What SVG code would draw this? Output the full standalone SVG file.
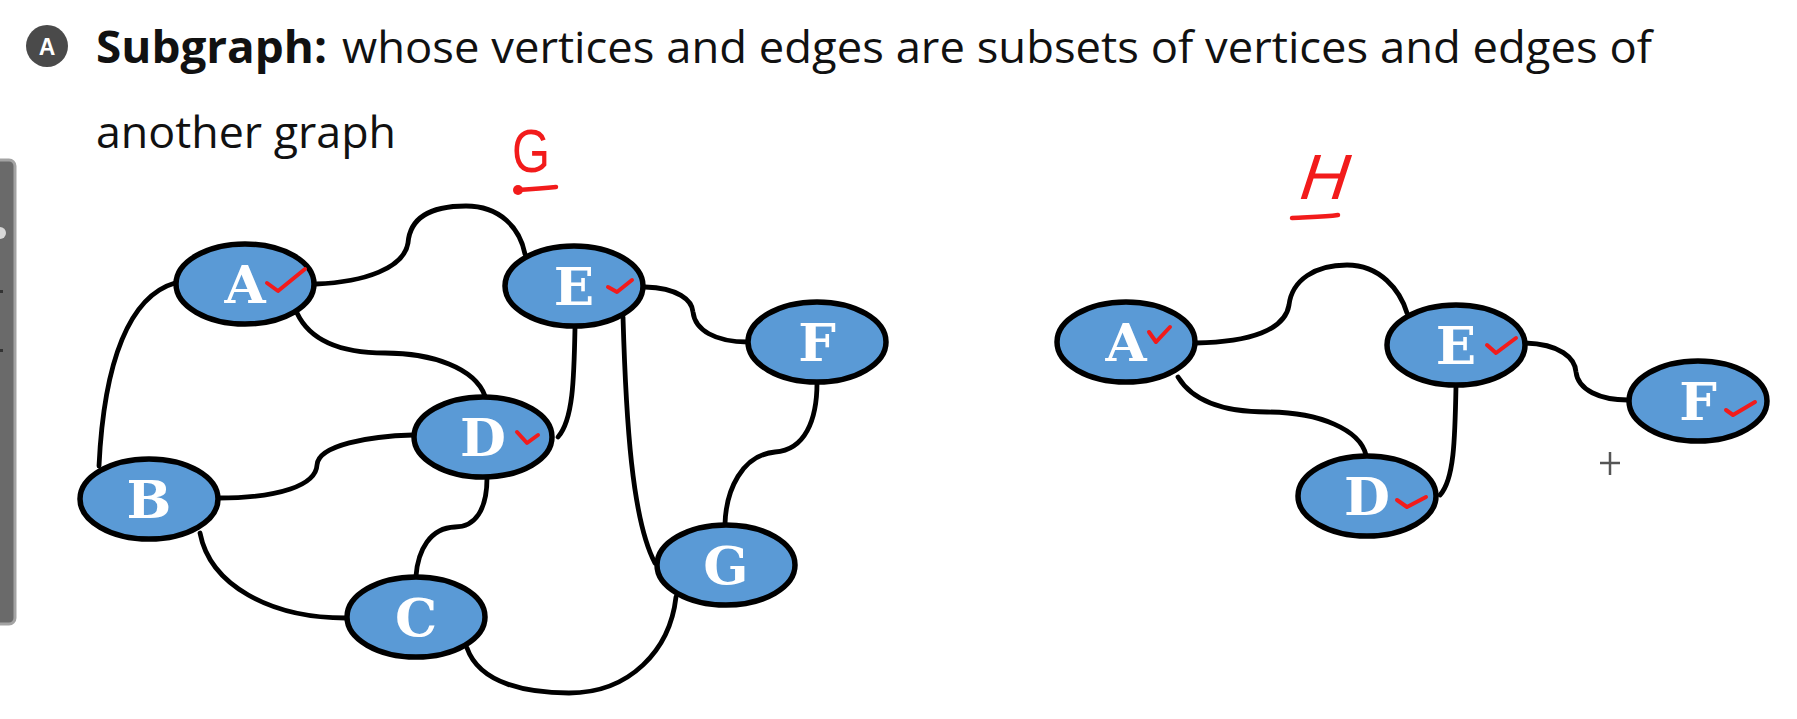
<svg xmlns="http://www.w3.org/2000/svg" width="1797" height="719" viewBox="0 0 1797 719">
  <defs>
    <style>
      .node ellipse { fill: #5a9ad6; stroke: #000; stroke-width: 5.5; }
      .node text { fill: #fff; font-family: "DejaVu Serif", "Liberation Serif", serif; font-weight: bold; font-size: 53px; text-anchor: middle; }
      .edge { fill: none; stroke: #000; stroke-width: 4.8; stroke-linecap: round; }
      .tick { fill: none; stroke: #f21b1b; stroke-width: 4; stroke-linecap: round; stroke-linejoin: round; }
      .ink { fill: none; stroke: #f21b1b; stroke-width: 4.5; stroke-linecap: round; }
      .title { font-family: "Open Sans", "Noto Sans", "Liberation Sans", sans-serif; font-size: 44px; fill: #111; }
    </style>
  </defs>

  <rect width="1797" height="719" fill="#fff"/>

  <!-- side panel strip at the left edge -->
  <g id="side-panel">
    <rect x="-12" y="160" width="27" height="464" rx="6" fill="#6a6a6a" stroke="#a3a3a3" stroke-width="3"/>
    <circle cx="0" cy="233" r="6" fill="#d8d8d8"/>
    <rect x="0" y="290" width="3" height="3" fill="#333"/>
    <rect x="0" y="349" width="3" height="3" fill="#333"/>
  </g>

  <!-- heading -->
  <g id="heading">
    <circle cx="47" cy="46" r="21" fill="#4a4a4a"/>
    <text x="47" y="55" font-family="Liberation Sans, sans-serif" font-weight="bold" font-size="23" fill="#fff" text-anchor="middle">A</text>
    <text class="title" y="63"><tspan x="96" font-weight="bold" textLength="231" lengthAdjust="spacingAndGlyphs">Subgraph:</tspan><tspan x="342" textLength="1310" lengthAdjust="spacingAndGlyphs">whose vertices and edges are subsets of vertices and edges of</tspan></text>
    <text class="title" x="96" y="148" textLength="300" lengthAdjust="spacingAndGlyphs">another graph</text>
  </g>

  <!-- graph labels written in red ink -->
  <g id="label-G">
    <text x="512" y="172" font-family="Liberation Sans, sans-serif" font-size="62" fill="#f21b1b" textLength="38" lengthAdjust="spacingAndGlyphs">G</text>
    <circle cx="518" cy="190" r="5" fill="#f21b1b"/>
    <path class="ink" d="M518 190 C 532 189, 545 188, 556 187"/>
  </g>
  <g id="label-H">
    <text x="1296" y="199" font-family="Liberation Sans, sans-serif" font-size="64" fill="#f21b1b" transform="skewX(-18) translate(64 0)" textLength="48" lengthAdjust="spacingAndGlyphs">H</text>
    <path class="ink" d="M1292 218 C 1308 217, 1324 217, 1338 215"/>
  </g>

  <!-- connectors -->
  <g id="connectors">
    <!-- graph G -->
    <path class="edge" d="M316 284 C 365 282, 404 268, 408 243 C 410 218, 430 206, 466 206 C 500 206, 520 228, 525 254"/>
    <path class="edge" d="M175 283 C 130 296, 104 360, 99 466"/>
    <path class="edge" d="M297 313 C 312 345, 350 353, 385 353 C 432 353, 475 368, 485 396"/>
    <path class="edge" d="M575 328 C 574 380, 573 420, 558 437"/>
    <path class="edge" d="M645 287 C 678 288, 692 300, 693 312 C 695 330, 715 342, 748 342"/>
    <path class="edge" d="M623 317 C 626 420, 632 520, 655 563"/>
    <path class="edge" d="M817 383 C 817 420, 805 450, 775 452 C 742 455, 726 490, 725 524"/>
    <path class="edge" d="M413 435 C 370 436, 318 445, 317 465 C 316 485, 280 498, 218 498"/>
    <path class="edge" d="M487 478 C 487 510, 475 527, 455 527 C 430 528, 418 550, 416 576"/>
    <path class="edge" d="M200 533 C 210 585, 270 618, 346 618"/>
    <path class="edge" d="M467 648 C 480 685, 530 693, 569 693 C 630 693, 670 650, 676 597"/>
    <!-- graph H -->
    <path class="edge" d="M1196 343 C 1250 342, 1285 330, 1289 305 C 1292 280, 1315 265, 1347 265 C 1380 265, 1400 290, 1407 313"/>
    <path class="edge" d="M1178 377 C 1195 405, 1230 412, 1267 412 C 1320 412, 1360 430, 1366 455"/>
    <path class="edge" d="M1456 386 C 1455 440, 1454 480, 1440 495"/>
    <path class="edge" d="M1525 343 C 1560 344, 1575 358, 1576 372 C 1578 390, 1600 400, 1628 400"/>
  </g>

  <!-- graph G nodes -->
  <g id="G-A" class="node"><ellipse cx="245" cy="284" rx="69" ry="40"/><text x="245" y="303">A</text><path class="tick" d="M267 283 L278 291 L305 269"/></g>
  <g id="G-E" class="node"><ellipse cx="574" cy="286" rx="69" ry="40"/><text x="574" y="305">E</text><path class="tick" d="M608 287 L617 292 L632 280"/></g>
  <g id="G-F" class="node"><ellipse cx="817" cy="342" rx="69" ry="40"/><text x="817" y="361">F</text></g>
  <g id="G-D" class="node"><ellipse cx="483" cy="437" rx="69" ry="40"/><text x="483" y="456">D</text><path class="tick" d="M517 432 L527 443 L538 435"/></g>
  <g id="G-B" class="node"><ellipse cx="149" cy="499" rx="69" ry="40"/><text x="149" y="518">B</text></g>
  <g id="G-C" class="node"><ellipse cx="416" cy="617" rx="69" ry="40"/><text x="416" y="636">C</text></g>
  <g id="G-G" class="node"><ellipse cx="726" cy="565" rx="69" ry="40"/><text x="726" y="584">G</text></g>

  <!-- graph H nodes -->
  <g id="H-A" class="node"><ellipse cx="1126" cy="342" rx="69" ry="40"/><text x="1126" y="361">A</text><path class="tick" d="M1149 332 L1156 342 L1170 327"/></g>
  <g id="H-E" class="node"><ellipse cx="1456" cy="345" rx="69" ry="40"/><text x="1456" y="364">E</text><path class="tick" d="M1487 345 L1496 353 L1516 338"/></g>
  <g id="H-F" class="node"><ellipse cx="1698" cy="401" rx="69" ry="40"/><text x="1698" y="420">F</text><path class="tick" d="M1726 410 L1733 415 L1755 402"/></g>
  <g id="H-D" class="node"><ellipse cx="1367" cy="496" rx="69" ry="40"/><text x="1367" y="515">D</text><path class="tick" d="M1397 500 L1407 507 L1426 497"/></g>

  <!-- pointer crosshair -->
  <g id="pointer" stroke="#555" stroke-width="2.5">
    <path d="M1610 452 V 475 M1600 463 H 1620"/>
  </g>
</svg>
